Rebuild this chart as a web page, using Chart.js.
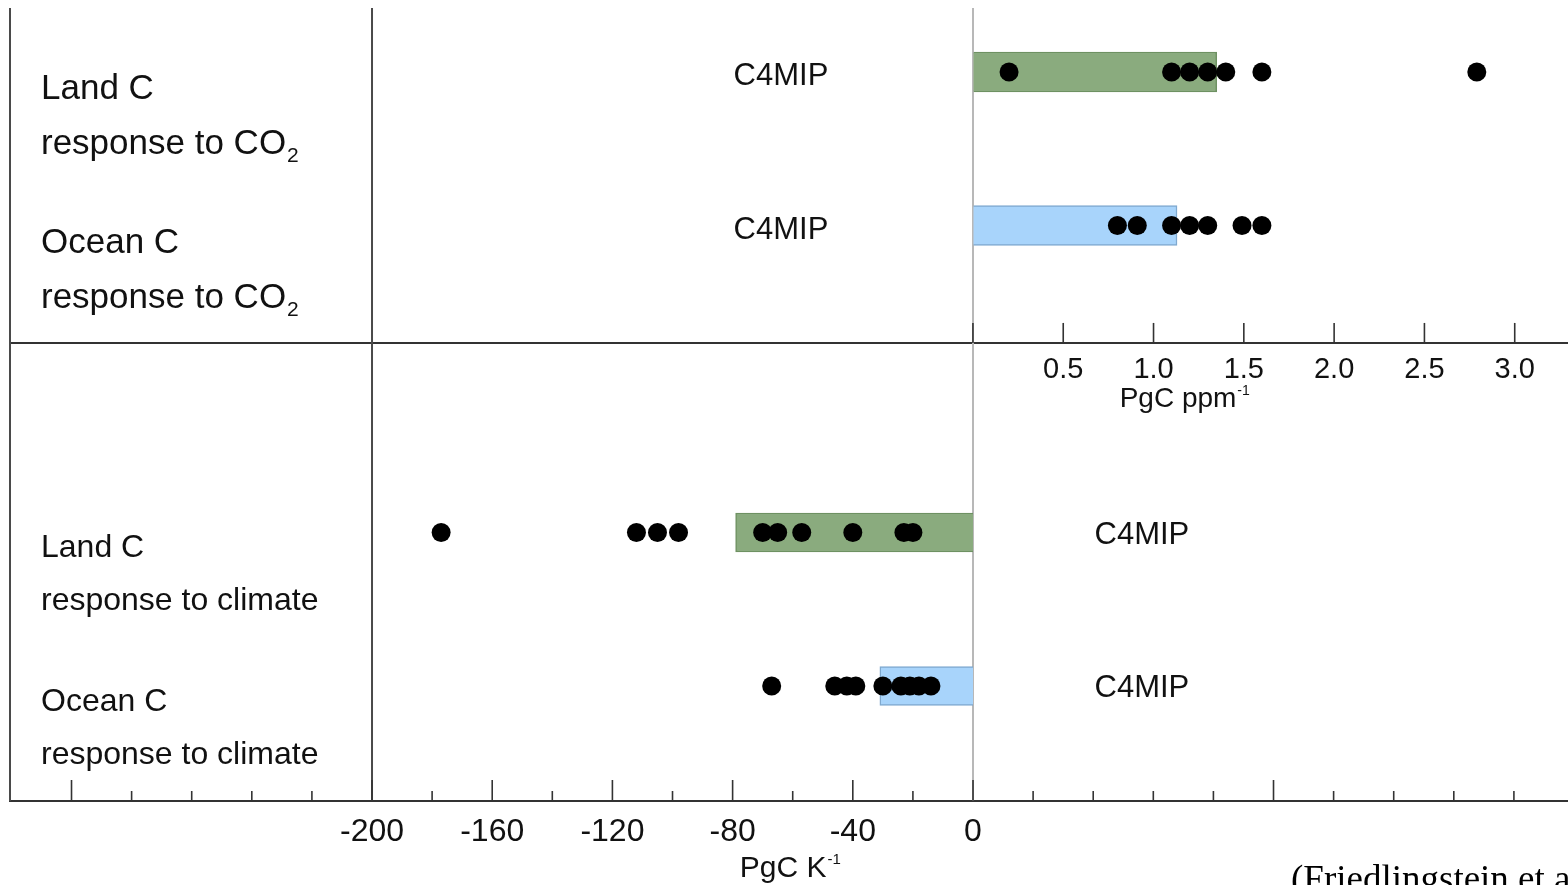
<!DOCTYPE html>
<html><head><meta charset="utf-8">
<script src="https://cdn.jsdelivr.net/npm/chart.js@4/dist/chart.umd.min.js"></script>
<style>html,body{margin:0;padding:0;background:#fff;overflow:hidden}#wrap{width:1568px;height:885px}</style>
</head><body><div id="wrap"><canvas id="c" width="1568" height="885"></canvas></div>
<script>
// ---------- data ----------
const rowNames = [['Land C','response to CO₂'],['Ocean C','response to CO₂'],null,['Land C','response to climate'],['Ocean C','response to climate']];
const ensembleName = 'C4MIP';
// carbon-concentration sensitivity (PgC ppm-1)
const landCO2Models  = [0.20, 1.10, 1.20, 1.30, 1.40, 1.60, 2.79];
const oceanCO2Models = [0.80, 0.91, 1.10, 1.20, 1.30, 1.49, 1.60];
const landCO2Mean  = 1.35;
const oceanCO2Mean = 1.13;
// carbon-climate sensitivity (PgC K-1)
const landClimModels  = [-177, -112, -105, -98, -70, -65, -57, -40, -23, -20];
const oceanClimModels = [-67, -46, -42, -39, -30, -24, -21, -18, -14];
const landClimMean  = -79;
const oceanClimMean = -31;
// ticks
const co2TickLabels  = ['0.5','1.0','1.5','2.0','2.5','3.0'];
const co2TickMarks   = [0, 0.5, 1, 1.5, 2, 2.5, 3];
const climTickLabels = ['-200','-160','-120','-80','-40','0'];
const climMajorTicks = [-300,-200,-160,-120,-80,-40,0,100];
const climMinorTicks = [-280,-260,-240,-220,-180,-140,-100,-60,-20,20,40,60,80,120,140,160,180];
const citation = '(Friedlingstein et al., 2006)';

// ---------- styles ----------
const SANS = '"Liberation Sans", Arial, Helvetica, sans-serif';
const TXT = '#111';
const GREEN = '#8aab7e', GREEN_B = '#6e9162';
const BLUE = '#a8d4fb', BLUE_B = '#7fa9cf';
const MID_AXIS_ROW = 1.765;

const dots = (vals, row) => vals.map(v => ({x: v, y: row}));
const noPad = s => { s.paddingLeft = 0; s.paddingRight = 0; };

const decor = {
  id: 'decor',
  beforeDatasetsDraw(chart) {
    const {ctx, chartArea: a, scales} = chart;
    const xK = scales.xK, xC = scales.xC, y = scales.y;
    ctx.save();
    const line = (x1,y1,x2,y2) => { ctx.beginPath(); ctx.moveTo(x1,y1); ctx.lineTo(x2,y2); ctx.stroke(); };
    ctx.strokeStyle = '#b8b8b8'; ctx.lineWidth = 2;
    const x0 = xK.getPixelForValue(0);
    line(x0, a.top, x0, a.bottom);
    ctx.strokeStyle = '#4a4a4a'; ctx.lineWidth = 2;
    line(a.left, a.top, a.left, a.bottom);
    const xm = xK.getPixelForValue(-200);
    line(xm, a.top, xm, a.bottom);
    ctx.strokeStyle = '#333'; ctx.lineWidth = 1.6;
    climMajorTicks.forEach(v => { const p = xK.getPixelForValue(v); line(p, a.bottom, p, a.bottom - 21); });
    climMinorTicks.forEach(v => { const p = xK.getPixelForValue(v); line(p, a.bottom, p, a.bottom - 10); });
    const ym = y.getPixelForValue(MID_AXIS_ROW);
    co2TickMarks.forEach(v => { const p = xC.getPixelForValue(v); line(p, ym, p, ym - 20); });
    ctx.restore();
  },
  afterDraw(chart) {
    const {ctx, chartArea: a, scales} = chart;
    const xK = scales.xK, xC = scales.xC, y = scales.y;
    ctx.save();
    ctx.fillStyle = TXT;
    ctx.textBaseline = 'alphabetic';
    const drawLine = (s, x, by, size) => {
      ctx.font = size + 'px ' + SANS;
      ctx.textAlign = 'left';
      if (s.endsWith('₂')) {
        const main = s.slice(0, -1);
        ctx.fillText(main, x, by);
        const w = ctx.measureText(main).width;
        ctx.font = Math.round(size * 0.6) + 'px ' + SANS;
        ctx.fillText('2', x + w + 1, by + 8);
      } else ctx.fillText(s, x, by);
    };
    rowNames.forEach((r, i) => {
      if (!r) return;
      const py = y.getPixelForValue(i);
      const top = i < 2;
      const size = top ? 35 : 32;
      const o1 = top ? 27 : 24.5, o2 = top ? 82 : 77.5;
      drawLine(r[0], a.left + 31, py + o1, size);
      drawLine(r[1], a.left + 31, py + o2, size);
    });
    ctx.font = '31px ' + SANS; ctx.textAlign = 'center';
    [0, 1].forEach(i => ctx.fillText(ensembleName, xC.getPixelForValue(-1.063), y.getPixelForValue(i) + 13));
    [3, 4].forEach(i => ctx.fillText(ensembleName, xK.getPixelForValue(56.2), y.getPixelForValue(i) + 11));
    const sup = (base, cx, by, size) => {
      ctx.font = size + 'px ' + SANS;
      const w = ctx.measureText(base).width;
      ctx.font = Math.round(size * 0.5) + 'px ' + SANS;
      const ws = ctx.measureText('-1').width;
      const x = cx - (w + ws) / 2;
      ctx.textAlign = 'left';
      ctx.font = size + 'px ' + SANS;
      ctx.fillText(base, x, by);
      ctx.font = Math.round(size * 0.5) + 'px ' + SANS;
      ctx.fillText('-1', x + w + 1, by - size * 0.42);
    };
    sup('PgC ppm', xC.getPixelForValue(1.17), y.getPixelForValue(MID_AXIS_ROW) + 64, 28);
    sup('PgC K', xK.getPixelForValue(-61), a.bottom + 76, 30);
    ctx.font = '37px "Liberation Serif", "Times New Roman", serif';
    ctx.textAlign = 'left';
    ctx.fillStyle = '#000';
    ctx.fillText(citation, 1291, 891);
    ctx.restore();
  }
};

new Chart(document.getElementById('c'), {
  type: 'scatter',
  data: {
    datasets: [
      {type:'scatter', data: dots(landCO2Models, 0),  xAxisID:'xC', yAxisID:'y', order: 0},
      {type:'scatter', data: dots(oceanCO2Models, 1), xAxisID:'xC', yAxisID:'y', order: 0},
      {type:'scatter', data: dots(landClimModels, 3), xAxisID:'xK', yAxisID:'y', order: 0},
      {type:'scatter', data: dots(oceanClimModels, 4),xAxisID:'xK', yAxisID:'y', order: 0},
      {type:'bar', indexAxis:'y', grouped:false, xAxisID:'xC', yAxisID:'y', order: 5,
       data: [{x: landCO2Mean, y: 0}, {x: oceanCO2Mean, y: 1}],
       backgroundColor: [GREEN, BLUE], borderColor: [GREEN_B, BLUE_B], borderWidth: 1.5,
       barPercentage: 1, categoryPercentage: 1, maxBarThickness: 40},
      {type:'bar', indexAxis:'y', grouped:false, xAxisID:'xK', yAxisID:'y', order: 5,
       data: [{x: landClimMean, y: 3}, {x: oceanClimMean, y: 4}],
       backgroundColor: [GREEN, BLUE], borderColor: [GREEN_B, BLUE_B], borderWidth: 1.5,
       barPercentage: 1, categoryPercentage: 1, maxBarThickness: 39}
    ]
  },
  options: {
    responsive: false,
    animation: false,
    devicePixelRatio: 1,
    layout: {autoPadding: false, padding: {left: 10, top: 8, right: 0, bottom: 0}},
    elements: {point: {radius: 9.5, hoverRadius: 9.5, backgroundColor: '#000', borderWidth: 0}},
    plugins: {legend: {display: false}, tooltip: {enabled: false}},
    scales: {
      y: {type: 'linear', display: false, reverse: true, min: -0.417, max: 4.749, offset: false},
      xK: {
        type: 'linear', position: 'bottom', axis: 'x', min: -320.47, max: 198.0, offset: false,
        afterBuildTicks: s => { s.ticks = climMajorTicks.concat(climMinorTicks).sort((p, q) => p - q).map(v => ({value: v})); },
        afterFit: s => { s.height = 84; noPad(s); },
        grid: {display: false, drawTicks: false},
        border: {display: true, color: '#333', width: 2},
        ticks: {
          autoSkip: false, maxRotation: 0, padding: 12, color: TXT,
          font: {family: SANS, size: 32},
          callback: v => climTickLabels.includes(String(v)) ? String(v) : ''
        }
      },
      xC: {
        type: 'linear', position: {y: MID_AXIS_ROW}, axis: 'x', min: -5.332, max: 3.295, offset: false,
        afterBuildTicks: s => { s.ticks = co2TickMarks.map(v => ({value: v})); },
        afterFit: noPad,
        grid: {display: true, drawOnChartArea: false, drawTicks: true, tickLength: 10, tickColor: 'rgba(0,0,0,0)'},
        border: {display: true, color: '#333', width: 2},
        ticks: {
          autoSkip: false, maxRotation: 0, padding: 0, color: TXT,
          font: {family: SANS, size: 29},
          callback: v => { const s = Number(v).toFixed(1); return (v > 0 && co2TickLabels.includes(s)) ? s : ''; }
        }
      }
    }
  },
  plugins: [decor]
});
</script>
</body></html>
